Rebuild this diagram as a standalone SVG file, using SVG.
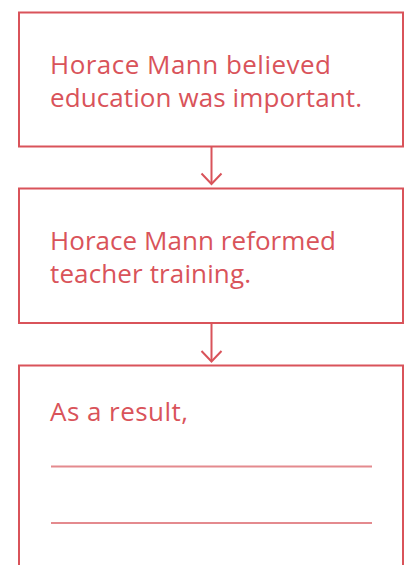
<svg xmlns="http://www.w3.org/2000/svg" width="404" height="565" viewBox="0 0 404 565">
<style>
.box{fill:#fff;stroke:#d9535a;stroke-width:2}
.t{font-family:"Open Sans","Liberation Sans",sans-serif;font-size:26px;fill:#d9535a}
.conn{stroke:#d9535a;stroke-width:2;fill:none}
.rule{stroke:#e48a8e;stroke-width:2}
</style>
<rect width="404" height="565" fill="#fff"/>
<g id="connectors">
<line class="conn" x1="211.5" y1="147" x2="211.5" y2="184"/>
<polyline class="conn" points="201.5,173.5 211.5,184 221.5,173.5"/>
<line class="conn" x1="211.5" y1="323" x2="211.5" y2="361"/>
<polyline class="conn" points="201.5,351 211.5,361.5 221.5,351"/>
</g>
<g id="node1">
<rect class="box" x="19" y="12.5" width="384" height="134"/>
<text class="t" x="50" y="74" textLength="281">Horace Mann believed</text>
<text class="t" x="50" y="107.3" textLength="312">education was important.</text>
</g>
<g id="node2">
<rect class="box" x="19" y="188.5" width="384" height="134.5"/>
<text class="t" x="50" y="249.7" textLength="286">Horace Mann reformed</text>
<text class="t" x="50" y="283.3" textLength="201">teacher training.</text>
</g>
<g id="node3">
<rect class="box" x="19" y="365.5" width="384" height="220"/>
<text class="t" x="50" y="421" textLength="138">As a result,</text>
<line class="rule" x1="51" y1="466.5" x2="372" y2="466.5"/>
<line class="rule" x1="51" y1="523" x2="372" y2="523"/>
</g>
</svg>
